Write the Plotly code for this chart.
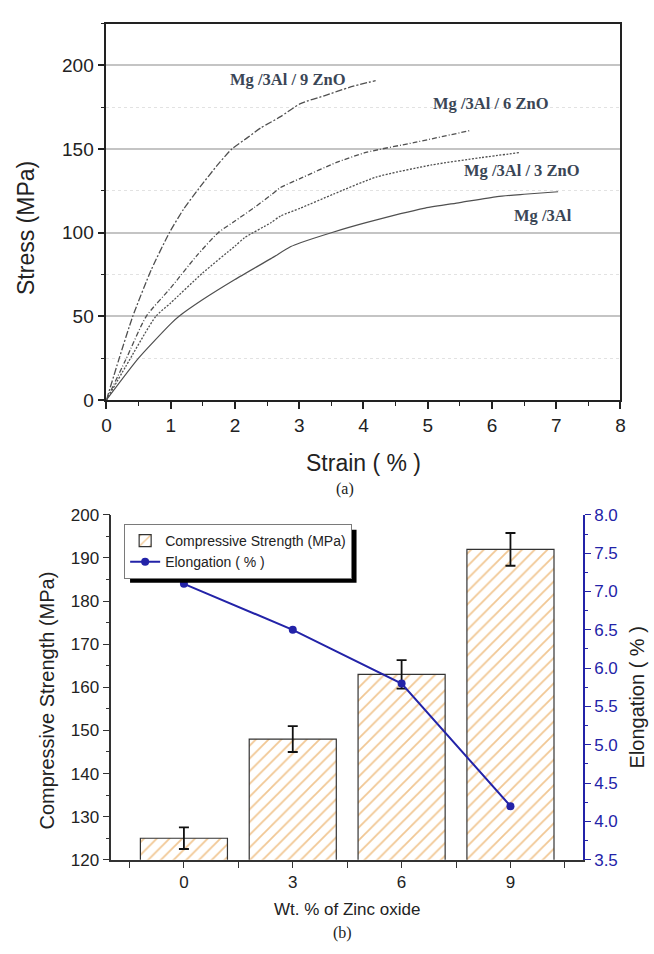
import plotly.graph_objects as go

# ---------------- data: (a) stress-strain curves ----------------
strain_3al = [0, 0.5, 1.0, 1.13, 1.5, 2.0, 2.56, 2.87, 3.02, 3.5, 4.04, 4.96, 5.5, 6.08, 6.5, 7.03]
stress_3al = [0, 25, 45.5, 50, 60, 72, 84.5, 91.7, 94, 100, 106, 114.7, 118, 121.6, 123, 124.5]

strain_3zno = [0, 0.3, 0.77, 1.0, 1.5, 2.0, 2.15, 2.56, 2.71, 3.02, 3.53, 4.2, 5.06, 5.83, 6.43]
stress_3zno = [0, 20, 50, 58, 76, 92, 97, 106, 110, 114.7, 123, 133.3, 140.5, 144.9, 147.9]

strain_6zno = [0, 0.3, 0.62, 1.0, 1.4, 1.74, 2.0, 2.3, 2.56, 2.71, 3.02, 3.58, 4.04, 4.8, 5.65]
stress_6zno = [0, 24, 50, 67, 86, 100, 107, 115, 122.5, 127, 132.5, 142, 148, 154, 161]

strain_9zno = [0, 0.2, 0.41, 0.7, 0.98, 1.2, 1.44, 1.74, 1.95, 2.2, 2.4, 2.71, 3.02, 3.4, 3.78, 4.19]
stress_9zno = [0, 25, 50, 78, 100, 114, 126.5, 141, 150, 157, 162.6, 169.4, 177.2, 182, 186.9, 191]

curve_names = ["Mg /3Al", "Mg /3Al / 3 ZnO", "Mg /3Al / 6 ZnO", "Mg /3Al / 9 ZnO"]

# ---------------- data: (b) bars + elongation ----------------
zno_wt = [0, 3, 6, 9]
comp_strength = [125, 148, 163, 192]
comp_err = [2.5, 3.0, 3.3, 3.8]
elongation = [7.1, 6.5, 5.8, 4.2]

W, H = 654, 954
def px_x(p):
    return p / W
def px_y(p):
    return 1 - p / H

SANS = "Liberation Sans, Arial, sans-serif"
SERIF = "Liberation Serif, Times New Roman, serif"
LINEC = "#505050"
BLUE = "#2323a8"

fig = go.Figure()

# ----- (a) curves -----
styles = [
    dict(dash="solid", width=1.2),
    dict(dash="2px,1.5px", width=1.3),
    dict(dash="5px,2px,1px,2px", width=1.3),
    dict(dash="7px,2px,2px,2px", width=1.3),
]
xs = [strain_3al, strain_3zno, strain_6zno, strain_9zno]
ys = [stress_3al, stress_3zno, stress_6zno, stress_9zno]
for xv, yv, nm, st in zip(xs, ys, curve_names, styles):
    fig.add_trace(go.Scatter(x=xv, y=yv, mode="lines", name=nm, showlegend=False,
                             line=dict(color=LINEC, width=st["width"], dash=st["dash"], shape="spline", smoothing=0.6),
                             xaxis="x", yaxis="y"))

# ----- (b) bars -----
fig.add_trace(go.Bar(x=zno_wt, y=comp_strength, width=2.4, name="Compressive Strength (MPa)",
                     marker=dict(color="white", line=dict(color="#333333", width=1.2),
                                 pattern=dict(shape="/", fgcolor="#e3902a", bgcolor="white", size=9, solidity=0.2)),
                     error_y=dict(type="data", array=comp_err, color="#111111", thickness=1.8, width=5),
                     xaxis="x2", yaxis="y2"))
fig.add_trace(go.Scatter(x=zno_wt, y=elongation, mode="lines+markers", name="Elongation ( % )",
                         line=dict(color=BLUE, width=2), marker=dict(color=BLUE, size=8),
                         xaxis="x2", yaxis="y3"))

tickfont_a = dict(family=SANS, size=19, color="#222222")
tickfont_b = dict(family=SANS, size=17, color="#222222")

fig.update_layout(
    width=W, height=H,
    margin=dict(l=0, r=0, t=0, b=0),
    paper_bgcolor="white", plot_bgcolor="white",
    barmode="overlay",
    xaxis=dict(domain=[px_x(103), px_x(625)], anchor="y", range=[0, 8], dtick=1, tick0=0,
               showline=True, linecolor="#222222", linewidth=1.8, mirror=True,
               ticks="outside", ticklen=7, tickwidth=1.5, tickcolor="#222222",
               minor=dict(dtick=0.5, tick0=0, ticks="outside", ticklen=4, tickcolor="#222222", tickwidth=1.2),
               showgrid=False, zeroline=False, tickfont=tickfont_a),
    yaxis=dict(domain=[px_y(399.3), px_y(15)], anchor="x", range=[0, 225], dtick=50, tick0=0,
               showline=True, linecolor="#222222", linewidth=1.8, mirror=True,
               ticks="outside", ticklen=7, tickwidth=1.5, tickcolor="#222222",
               minor=dict(dtick=25, tick0=0, ticks="outside", ticklen=4, tickcolor="#222222", tickwidth=1.2,
                          showgrid=True, gridcolor="#e2e2e2", griddash="dot", gridwidth=1.2),
               showgrid=True, gridcolor="#c4c4c4", gridwidth=1.5,
               zeroline=False, tickfont=tickfont_a),
    xaxis2=dict(domain=[px_x(108), px_x(587)], anchor="y2", range=[-2, 11],
                tickvals=zno_wt, ticktext=[str(v) for v in zno_wt],
                showline=True, linecolor="#333333", linewidth=1.5,
                ticks="outside", ticklen=6, tickwidth=1.3, tickcolor="#333333",
                minor=dict(dtick=1.5, tick0=0, ticks="outside", ticklen=6, tickcolor="#333333", tickwidth=1.3),
                showgrid=False, zeroline=False, tickfont=tickfont_b),
    xaxis3=dict(overlaying="x2", anchor="y2", side="top", range=[-2, 11], dtick=1.5, tick0=0,
                showline=True, linecolor="#333333", linewidth=1.5,
                ticks="inside", ticklen=5, tickwidth=1.3, tickcolor="#333333",
                showticklabels=False, showgrid=False, zeroline=False),
    yaxis2=dict(domain=[px_y(869), px_y(516.7)], anchor="x2", range=[120, 200], dtick=10, tick0=120,
                showline=True, linecolor="#333333", linewidth=1.5,
                ticks="outside", ticklen=7, tickwidth=1.3, tickcolor="#333333",
                minor=dict(dtick=5, tick0=120, ticks="outside", ticklen=4, tickcolor="#333333", tickwidth=1.2),
                showgrid=False, zeroline=False, tickfont=tickfont_b),
    yaxis3=dict(overlaying="y2", anchor="x2", side="right", range=[3.5, 8.0], dtick=0.5, tick0=3.5,
                tickformat=".1f",
                showline=True, linecolor=BLUE, linewidth=1.5,
                ticks="outside", ticklen=6, tickwidth=1.3, tickcolor=BLUE,
                minor=dict(dtick=0.25, tick0=3.5, ticks="outside", ticklen=3, tickcolor=BLUE, tickwidth=1.2),
                showgrid=False, zeroline=False,
                tickfont=dict(family=SANS, size=17, color=BLUE)),
    showlegend=True,
    legend=dict(x=px_x(121), y=px_y(526), xanchor="left", yanchor="top",
                bgcolor="white", bordercolor="#7a7a7a", borderwidth=1,
                font=dict(family=SANS, size=14, color="#222222"),
                tracegroupgap=0, itemwidth=30),
)

# legend drop shadow
fig.add_shape(type="rect", xref="paper", yref="paper",
              x0=px_x(127), x1=px_x(357), y0=px_y(586), y1=px_y(532),
              fillcolor="black", line=dict(width=0), layer="above")

# ----- text annotations -----
ann_font = dict(family=SERIF, size=16.5, color="#3a4656")
label_pos = [(6.8, 110), (6.47, 137), (5.98, 177), (2.83, 191.6)]
for nm, (ax_, ay_) in zip(curve_names, label_pos):
    fig.add_annotation(x=ax_, y=ay_, xref="x", yref="y", text="<b>%s</b>" % nm,
                       showarrow=False, font=ann_font, xanchor="center", yanchor="middle")

def paper_text(x, y, text, font, angle=0):
    fig.add_annotation(x=px_x(x), y=px_y(y), xref="paper", yref="paper", text=text,
                       textangle=angle, showarrow=False, font=font,
                       xanchor="center", yanchor="middle")

paper_text(22, 224, "Stress (MPa)", dict(family=SANS, size=23, color="#222222"), -90)
paper_text(364, 464, "Strain ( % )", dict(family=SANS, size=23, color="#222222"))
paper_text(345, 490, "(a)", dict(family=SERIF, size=16, color="#222222"))
paper_text(43, 706, "Compressive Strength (MPa)", dict(family=SANS, size=20, color="#222222"), -90)
paper_text(642, 703, "Elongation ( % )", dict(family=SANS, size=20, color="#222222"), -90)
paper_text(347, 920, "Wt. % of Zinc oxide", dict(family=SANS, size=17, color="#222222"))
paper_text(343, 944, "(b)", dict(family=SERIF, size=16, color="#222222"))

fig.write_html("out.html")
